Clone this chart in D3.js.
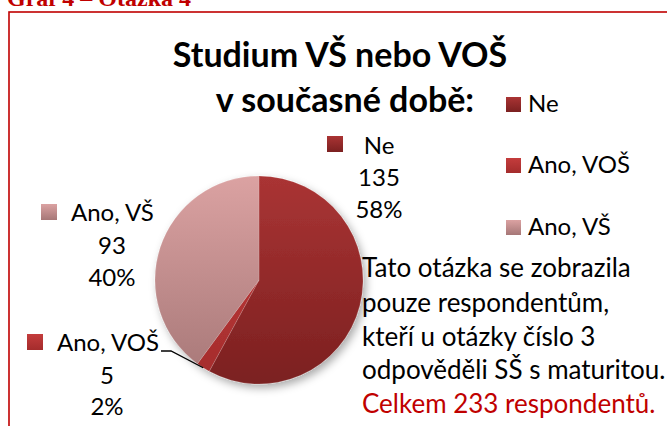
<!DOCTYPE html>
<html><head><meta charset="utf-8">
<script src="https://cdn.jsdelivr.net/npm/d3@7"></script>
<style>html,body{margin:0;padding:0;background:#fff;overflow:hidden}</style>
</head><body>
<svg id="c" width="667" height="426"></svg>
<script>
const categories = ["Ne", "Ano, VOŠ", "Ano, VŠ"];
const values = [135, 5, 93];
const percentLabels = ["58%", "2%", "40%"];
const titleLines = ["Studium VŠ nebo VOŠ", "v současné době:"];
const noteLines = ["Tato otázka se zobrazila", "pouze respondentům,", "kteří u otázky číslo 3", "odpověděli SŠ s maturitou."];
const noteTotal = "Celkem 233 respondentů.";
const heading = "Graf 4 – Otázka 4";

const FONT = "Lato, 'Open Sans', sans-serif";
const topColors = ["#aa3434", "#c43c3c", "#dba2a2"];
const botColors = ["#7b2020", "#a42c2c", "#a67777"];

const svg = d3.select("#c");
const defs = svg.append("defs");
const cx = 259, cy = 280, R = 104;

categories.forEach((c, i) => {
  const g = defs.append("linearGradient").attr("id", "g" + i)
    .attr("gradientUnits", "userSpaceOnUse").attr("x1", 0).attr("x2", 0)
    .attr("y1", -R).attr("y2", R);
  g.append("stop").attr("offset", 0).attr("stop-color", topColors[i]);
  g.append("stop").attr("offset", 1).attr("stop-color", botColors[i]);
  const k = defs.append("linearGradient").attr("id", "k" + i)
    .attr("x1", 0).attr("x2", 0).attr("y1", 0).attr("y2", 1);
  k.append("stop").attr("offset", 0).attr("stop-color", topColors[i]);
  k.append("stop").attr("offset", 1).attr("stop-color", botColors[i]);
});
const f = defs.append("filter").attr("id", "sh").attr("x", "-20%").attr("y", "-20%").attr("width", "150%").attr("height", "150%");
f.append("feDropShadow").attr("dx", 3).attr("dy", 4).attr("stdDeviation", 4).attr("flood-color", "#000").attr("flood-opacity", 0.33);

// heading (clipped at top, as in the reference)
svg.append("text").attr("x", 7).attr("y", 6).text(heading)
  .attr("font-family", "'Liberation Serif', 'Times New Roman', serif").attr("font-weight", "bold")
  .attr("font-size", 24).attr("fill", "#c00000");

// frame
svg.append("rect").attr("x", 9).attr("y", 12).attr("width", 720).attr("height", 500)
  .attr("fill", "none").attr("stroke", "#c00000").attr("stroke-width", 1.6);

// title
const titlePos = [[340, 67], [345, 112]];
titleLines.forEach((t, i) => {
  svg.append("text").attr("x", titlePos[i][0]).attr("y", titlePos[i][1]).attr("text-anchor", "middle")
    .attr("font-family", FONT).attr("font-weight", "bold").attr("font-size", 34).attr("fill", "#000").text(t);
});

// pie
const pie = d3.pie().sort(null).value(d => d)(values);
const arc = d3.arc().innerRadius(0).outerRadius(R);
const pg = svg.append("g").attr("transform", `translate(${cx},${cy})`);
pg.append("g").attr("filter", "url(#sh)").selectAll("path").data(pie).join("path")
  .attr("d", arc).attr("fill", (d, i) => `url(#g${i})`)
  .attr("stroke", "rgba(255,255,255,0.25)").attr("stroke-width", 0.6);

// leader line for small slice
const vos = pie[1];
const mid = (vos.startAngle + vos.endAngle) / 2;
const ex = cx + R * Math.sin(mid), ey = cy - R * Math.cos(mid);
svg.append("path").attr("d", `M161,351 L171,351 L${ex},${ey}`)
  .attr("fill", "none").attr("stroke", "#000").attr("stroke-width", 1.3);

// data labels
const LFS = 24;
const labelPos = [
  {key: [327, 136], cx: 379, ys: [154, 186, 218]},
  {key: [27, 334], cx: 107, ys: [351, 384, 415]},
  {key: [41, 204], cx: 112, ys: [221, 254, 286]}
];
labelPos.forEach((p, i) => {
  svg.append("rect").attr("x", p.key[0]).attr("y", p.key[1]).attr("width", 16).attr("height", 16)
    .attr("fill", `url(#k${i})`);
  const nameStart = p.key[0] + 30;
  svg.append("text").attr("x", i === 0 ? p.cx : nameStart).attr("y", p.ys[0])
    .attr("text-anchor", i === 0 ? "middle" : "start")
    .attr("font-family", FONT).attr("font-size", LFS).attr("fill", "#000").text(categories[i]);
  svg.append("text").attr("x", p.cx).attr("y", p.ys[1]).attr("text-anchor", "middle")
    .attr("font-family", FONT).attr("font-size", LFS).attr("fill", "#000").text(values[i]);
  svg.append("text").attr("x", p.cx).attr("y", p.ys[2]).attr("text-anchor", "middle")
    .attr("font-family", FONT).attr("font-size", LFS).attr("fill", "#000").text(percentLabels[i]);
});

// legend
const legY = [112, 173, 235];
categories.forEach((c, i) => {
  svg.append("rect").attr("x", 506).attr("y", legY[i] - 15).attr("width", 15).attr("height", 15)
    .attr("fill", `url(#k${i})`);
  svg.append("text").attr("x", 528).attr("y", legY[i]).attr("font-family", FONT)
    .attr("font-size", LFS).attr("fill", "#000").text(c);
});

// note
const noteY = [277, 312, 346, 379];
noteLines.forEach((t, i) => {
  svg.append("text").attr("x", 362).attr("y", noteY[i]).attr("font-family", FONT)
    .attr("font-size", 26).attr("fill", "#000").text(t);
});
svg.append("text").attr("x", 362).attr("y", 413).attr("font-family", FONT)
  .attr("font-size", 26).attr("fill", "#c00000").text(noteTotal);
</script>
</body></html>
